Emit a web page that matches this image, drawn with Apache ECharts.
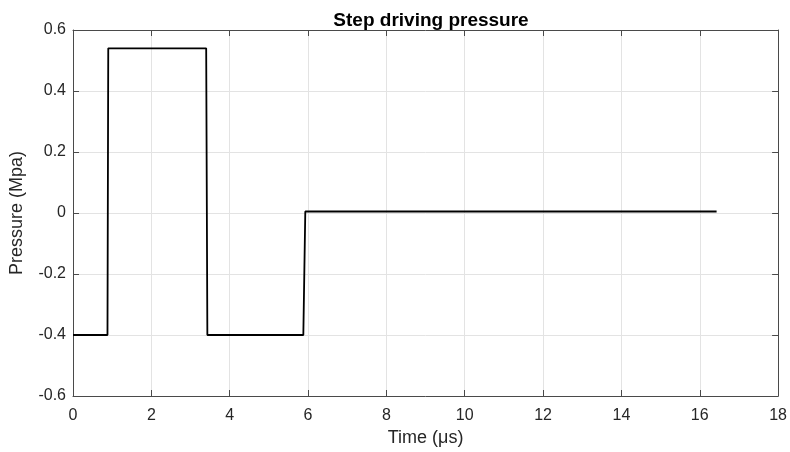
<!DOCTYPE html>
<html>
<head>
<meta charset="utf-8">
<script src="https://cdn.jsdelivr.net/npm/echarts@6/dist/echarts.min.js"></script>
<style>
  html, body { margin: 0; padding: 0; background: #fff; }
  #chart { width: 790px; height: 452px; }
</style>
</head>
<body>
<div id="chart"></div>
<script>
// step waveform
const timeUs = [0, 0.88, 0.9, 3.4, 3.43, 5.88, 5.93, 16.43]
const pressureMpa = [-0.4, -0.4, 0.54, 0.54, -0.4, -0.4, 0.005, 0.005]

const points = timeUs.map((t, i) => [t, pressureMpa[i]])

const font = 'Liberation Sans, Arial, sans-serif'
const axisCol = '#4a4a4a'
const gridCol = '#e3e3e3'

const baseX = {
    type: 'value',
    min: 0,
    max: 18,
    interval: 2,
    axisLine: { show: true, onZero: false, lineStyle: { color: axisCol, width: 1 } },
    axisTick: { show: true, inside: true, length: 6, lineStyle: { color: axisCol } },
    splitLine: { show: false }
}
const baseY = {
    type: 'value',
    min: -0.6,
    max: 0.6,
    interval: 0.2,
    axisLine: { show: true, onZero: false, lineStyle: { color: axisCol, width: 1 } },
    axisTick: { show: true, inside: true, length: 6, lineStyle: { color: axisCol } },
    splitLine: { show: false }
}

const chart = echarts.init(document.getElementById('chart'))
chart.setOption({
    animation: false,
    backgroundColor: '#fff',
    title: {
        text: 'Step driving pressure',
        left: 426,
        textAlign: 'center',
        top: 6,
        textStyle: { fontFamily: font, fontSize: 19, fontWeight: 'bold', color: '#000' }
    },
    grid: { left: 72, right: 10, top: 30, bottom: 55 },
    xAxis: [
        Object.assign({}, baseX, {
            position: 'bottom',
            name: 'Time (\u03bcs)',
            nameLocation: 'middle',
            nameGap: 33,
            nameTextStyle: { fontFamily: font, fontSize: 18, color: '#262626' },
            axisLabel: { fontFamily: font, fontSize: 16, color: '#262626', margin: 12 },
            splitLine: { show: true, lineStyle: { color: gridCol, width: 1 } }
        }),
        Object.assign({}, baseX, { position: 'top', axisLabel: { show: false } })
    ],
    yAxis: [
        Object.assign({}, baseY, {
            position: 'left',
            name: 'Pressure (Mpa)',
            nameLocation: 'middle',
            nameGap: 47,
            nameTextStyle: { fontFamily: font, fontSize: 18, color: '#262626' },
            axisLabel: { fontFamily: font, fontSize: 16, color: '#262626', margin: 7 },
            splitLine: { show: true, lineStyle: { color: gridCol, width: 1 } }
        }),
        Object.assign({}, baseY, { position: 'right', axisLabel: { show: false } })
    ],
    series: [
        {
            type: 'line',
            data: points,
            showSymbol: false,
            lineStyle: { color: '#000', width: 1.8 },
            xAxisIndex: 0,
            yAxisIndex: 0
        }
    ]
})
</script>
</body>
</html>
